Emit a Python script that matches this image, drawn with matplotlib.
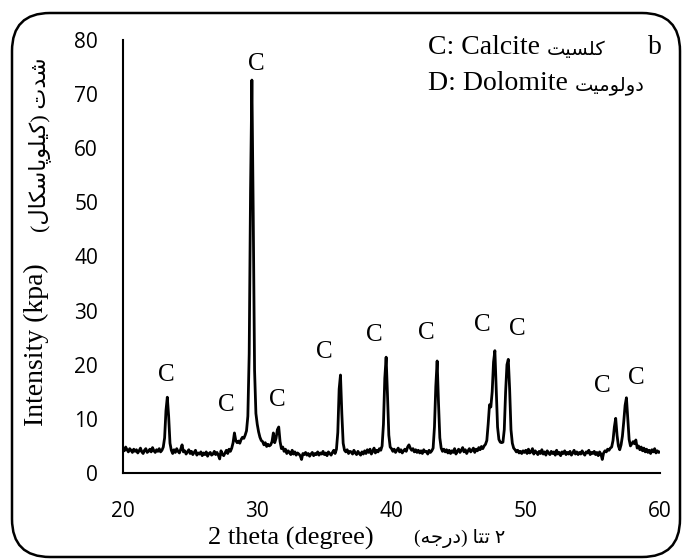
import matplotlib.pyplot as plt
import numpy as np
from matplotlib.patches import FancyBboxPatch


# XRD intensity, one row per degree, 0.1 deg steps
intensity = [
    4.6, 4.1, 4.8, 4.3, 3.9, 4.5, 4.2, 3.8, 4.4, 4.0,  # 20
    4.3, 3.7, 4.1, 4.6, 3.9, 3.6, 4.2, 4.5, 3.8, 4.0,  # 21
    4.4, 3.9, 4.7, 4.1, 3.8, 4.3, 4.0, 4.5, 3.9, 4.2,  # 22
    4.8, 6.5, 11.5, 14.0, 10.5, 5.5, 4.2, 3.6, 4.3, 3.8,  # 23
    4.5, 4.0, 3.7, 4.4, 5.2, 3.9, 4.1, 3.5, 3.9, 4.3,  # 24
    3.6, 4.0, 3.4, 3.8, 4.2, 3.3, 3.7, 3.5, 3.9, 3.2,  # 25
    3.7, 3.4, 3.9, 3.1, 3.6, 3.8, 3.3, 3.5, 4.0, 3.4,  # 26
    3.8, 3.3, 2.6, 4.1, 3.5, 3.2, 3.7, 4.2, 3.6, 4.4,  # 27
    4.0, 4.6, 5.6, 7.4, 6.0, 5.6, 5.9, 5.5, 6.2, 6.6,  # 28
    6.4, 7.0, 7.8, 10.5, 22.0, 52.0, 72.6, 48.0, 19.0, 11.0,  # 29
    9.0, 7.6, 6.6, 6.0, 5.8, 5.2, 5.6, 4.9, 5.3, 5.0,  # 30
    5.2, 5.8, 7.4, 5.6, 6.4, 8.0, 8.5, 5.8, 4.5, 4.8,  # 31
    4.0, 4.4, 3.6, 4.1, 3.8, 3.4, 4.2, 3.5, 3.9, 3.3,  # 32
    3.7, 3.5, 3.2, 2.5, 3.6, 3.4, 3.8, 3.3, 3.6, 3.1,  # 33
    3.5, 3.8, 3.2, 3.6, 3.4, 3.9, 3.3, 3.7, 3.5, 4.0,  # 34
    3.4, 3.7, 3.2, 3.9, 3.6, 3.3, 3.8, 4.2, 3.6, 4.4,  # 35
    7.5, 15.5, 18.1, 11.0, 5.5, 4.2, 3.9, 4.3, 3.6, 4.0,  # 36
    3.9, 3.5, 4.2, 3.7, 3.4, 4.0, 3.6, 3.3, 3.9, 3.5,  # 37
    4.1, 3.6, 4.3, 3.8, 4.4, 3.5, 4.0, 4.6, 3.7, 4.2,  # 38
    3.9, 4.5, 4.2, 5.0, 9.0, 17.5, 21.4, 14.5, 7.0, 4.8,  # 39
    4.5, 4.0, 4.4, 3.8, 4.2, 4.6, 3.9, 4.3, 3.7, 4.1,  # 40
    4.4, 4.0, 4.8, 5.2, 4.6, 4.2, 4.5, 3.9, 4.3, 3.8,  # 41
    4.2, 3.7, 4.1, 3.6, 4.3, 3.9, 4.0, 3.5, 4.2, 3.8,  # 42
    4.1, 4.6, 8.5, 16.0, 20.7, 13.0, 6.5, 4.6, 4.0, 4.4,  # 43
    3.9, 4.3, 3.7, 4.2, 3.6, 4.1, 3.8, 4.5, 3.5, 4.0,  # 44
    4.4, 3.8, 4.2, 4.7, 3.9, 4.3, 3.6, 4.1, 4.5, 3.9,  # 45
    4.2, 4.6, 3.8, 4.4, 4.1, 4.7, 4.3, 4.9, 4.5, 5.0,  # 46
    5.3, 6.0, 9.0, 12.6, 12.2, 15.0, 20.5, 22.6, 15.5, 8.5,  # 47
    6.2, 5.7, 5.6, 5.7, 8.0, 15.0, 20.0, 21.0, 15.5, 8.0,  # 48
    5.5, 4.6, 4.3, 3.9, 4.2, 3.7, 4.0, 3.6, 4.1, 3.8,  # 49
    4.2, 3.6, 4.4, 3.7, 3.9, 4.5, 3.5, 4.1, 3.8, 3.4,  # 50
    4.0, 3.6, 4.3, 3.5, 3.9, 3.3, 4.1, 3.7, 3.4, 4.0,  # 51
    3.6, 3.9, 3.3, 4.2, 3.5, 3.8, 3.2, 3.9, 3.6, 4.1,  # 52
    3.4, 3.8, 3.5, 4.0, 3.3, 3.7, 4.2, 3.5, 3.9, 3.4,  # 53
    3.8, 3.5, 4.1, 3.6, 3.3, 3.9, 3.7, 4.2, 3.4, 3.8,  # 54
    3.6, 4.0, 3.4, 3.8, 3.2, 3.9, 3.5, 2.5, 3.7, 4.1,  # 55
    3.9, 4.4, 4.2, 4.6, 4.8, 6.0, 8.5, 10.1, 7.0, 5.0,  # 56
    4.3, 5.2, 6.8, 9.5, 12.5, 13.9, 10.0, 6.2, 5.0, 5.4,  # 57
    5.8, 5.4, 6.1, 4.6, 5.0, 4.3, 4.8, 4.1, 4.6, 3.9,  # 58
    4.4, 3.8, 4.2, 3.6, 4.3, 3.9, 4.5, 3.7, 4.1, 3.8,  # 59
    3.9,  # 60
]
two_theta = 20 + 0.1 * np.arange(len(intensity))

# peak labels
label_x = [23.2, 27.7, 29.9, 31.5, 35.0, 38.7, 42.6, 46.8, 49.4, 55.7, 58.2]
label_y = [18.1, 12.6, 75.6, 13.5, 22.4, 25.5, 25.8, 27.3, 26.6, 16.1, 17.6]
label_text = ["C"] * len(label_x)

x_ticks = [20, 30, 40, 50, 60]
y_ticks = [0, 10, 20, 30, 40, 50, 60, 70, 80]

# persian letters: isolated, final, initial, medial
FORMS = {
    "\u0627": ("\uFE8D", "\uFE8E", None, None),
    "\u062A": ("\uFE95", "\uFE96", "\uFE97", "\uFE98"),
    "\u062C": ("\uFE9D", "\uFE9E", "\uFE9F", "\uFEA0"),
    "\u062F": ("\uFEA9", "\uFEAA", None, None),
    "\u0631": ("\uFEAD", "\uFEAE", None, None),
    "\u0633": ("\uFEB1", "\uFEB2", "\uFEB3", "\uFEB4"),
    "\u0634": ("\uFEB5", "\uFEB6", "\uFEB7", "\uFEB8"),
    "\u0644": ("\uFEDD", "\uFEDE", "\uFEDF", "\uFEE0"),
    "\u0645": ("\uFEE1", "\uFEE2", "\uFEE3", "\uFEE4"),
    "\u0647": ("\uFEE9", "\uFEEA", "\uFEEB", "\uFEEC"),
    "\u0648": ("\uFEED", "\uFEEE", None, None),
    "\u067E": ("\uFB56", "\uFB57", "\uFB58", "\uFB59"),
    "\u06A9": ("\uFB8E", "\uFB8F", "\uFB90", "\uFB91"),
    "\u06CC": ("\uFBFC", "\uFBFD", "\uFBFE", "\uFBFF"),
}


def farsi(text):
    # matplotlib has no arabic shaping, so pick glyph forms and reverse
    out = []
    for i, ch in enumerate(text):
        if ch not in FORMS:
            out.append(ch)
            continue
        iso, fin, ini, med = FORMS[ch]
        prev = text[i - 1] if i > 0 else ""
        nxt = text[i + 1] if i + 1 < len(text) else ""
        join_prev = prev in FORMS and FORMS[prev][2] is not None
        join_next = ini is not None and nxt in FORMS
        if join_prev and join_next:
            out.append(med)
        elif join_prev:
            out.append(fin)
        elif join_next:
            out.append(ini)
        else:
            out.append(iso)
    visual = "".join(reversed(out))
    return visual.translate(str.maketrans("()", ")("))


SERIF = ["Liberation Serif", "DejaVu Sans"]

W, H = 683, 560
fig = plt.figure(figsize=(W / 100, H / 100), dpi=100)

ax = fig.add_axes([123 / W, 87 / H, (660 - 123) / W, (473 - 40) / H])

ax.plot(two_theta, intensity, color="black", lw=2.0, solid_joinstyle="round")

for x, y, t in zip(label_x, label_y, label_text):
    ax.text(x, y, t, ha="center", va="center", fontsize=18, family=SERIF)

ax.set_xlim(20, 60)
ax.set_ylim(0, 80)
ax.set_xticks(x_ticks)
ax.set_yticks(y_ticks)
ax.tick_params(length=0, labelsize=15)
ax.tick_params(axis="x", pad=20)
ax.tick_params(axis="y", pad=18)
for lab in ax.get_xticklabels() + ax.get_yticklabels():
    lab.set_family("Open Sans")

ax.spines["top"].set_visible(False)
ax.spines["right"].set_visible(False)
for s in ("left", "bottom"):
    ax.spines[s].set_linewidth(1.5)
    ax.spines[s].set_color("black")

# axis titles
fig.text(36 / W, 1 - 345 / H, "Intensity (kpa)", rotation=90,
         ha="center", va="center", fontsize=20, family=SERIF)
fig.text(40 / W, 1 - 145 / H, farsi("شدت (کیلوپاسکال)"), rotation=90,
         ha="center", va="center", fontsize=16, family=SERIF)
fig.text(291 / W, 1 - 538 / H, "2 theta (degree)",
         ha="center", va="center", fontsize=19, family=SERIF)
fig.text(460 / W, 1 - 538 / H, farsi("۲ تتا (درجه)"),
         ha="center", va="center", fontsize=14, family=SERIF)

# legend notes: latin part, then the persian word just after it
notes = [("C: Calcite", "کلسیت", 48), ("D: Dolomite", "دولومیت", 84)]
for latin, persian, y_px in notes:
    t = fig.text(428 / W, 1 - y_px / H, latin,
                 ha="left", va="center", fontsize=20, family=SERIF)
    ax.annotate(farsi(persian), xy=(1, 0.45), xycoords=t,
                xytext=(5, 0), textcoords="offset points",
                ha="left", va="center", fontsize=14, family="DejaVu Sans",
                annotation_clip=False)
fig.text(655 / W, 1 - 47 / H, "b",
         ha="center", va="center", fontsize=20, family=SERIF)

# rounded frame round the whole chart
frame = FancyBboxPatch((0.12, 0.03), 6.68, 5.44,
                       boxstyle="round,pad=0,rounding_size=0.38",
                       transform=fig.dpi_scale_trans,
                       fill=False, edgecolor="black", lw=1.8)
fig.patches.append(frame)

fig.savefig("out.png", dpi=100)
